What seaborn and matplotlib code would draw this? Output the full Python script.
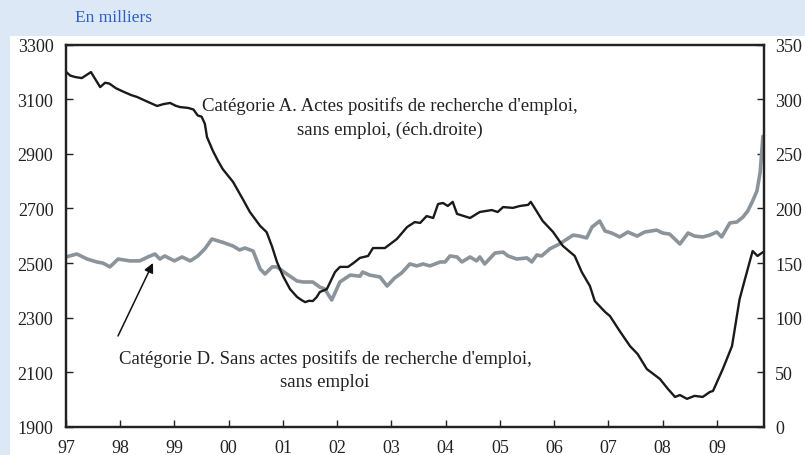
import numpy as np
import pandas as pd
import matplotlib.pyplot as plt
import seaborn as sns

# Catégorie A (left scale, thousands)
cat_a_t = [1997.00, 1997.08, 1997.17, 1997.29, 1997.46, 1997.63, 1997.72, 1997.80, 1997.92,
           1998.05, 1998.20, 1998.31, 1998.42, 1998.51, 1998.60, 1998.68, 1998.80, 1998.92,
           1999.02, 1999.10, 1999.25, 1999.35, 1999.43, 1999.50, 1999.56, 1999.60, 1999.71,
           1999.80, 1999.89, 2000.08, 2000.26, 2000.39, 2000.58, 2000.70, 2000.80, 2000.89,
           2001.00, 2001.13, 2001.26, 2001.34, 2001.41, 2001.48, 2001.55, 2001.62, 2001.68,
           2001.81, 2001.96, 2002.05, 2002.20, 2002.30, 2002.42, 2002.57, 2002.66, 2002.88,
           2003.10, 2003.29, 2003.43, 2003.53, 2003.65, 2003.77, 2003.86, 2003.95, 2004.04,
           2004.13, 2004.21, 2004.45, 2004.63, 2004.85, 2004.96, 2005.06, 2005.24, 2005.37,
           2005.52, 2005.57, 2005.79, 2005.98, 2006.16, 2006.38, 2006.51, 2006.66, 2006.75,
           2006.94, 2007.03, 2007.21, 2007.40, 2007.54, 2007.71, 2007.95, 2008.10, 2008.23,
           2008.32, 2008.45, 2008.59, 2008.74, 2008.87, 2008.93, 2009.11, 2009.28, 2009.42,
           2009.52, 2009.66, 2009.75, 2009.85]
cat_a = [3200, 3186, 3181, 3177, 3199, 3144, 3160, 3157, 3140,
         3128, 3115, 3108, 3098, 3090, 3082, 3075, 3082, 3086,
         3076, 3071, 3068, 3062, 3040, 3036, 3010, 2961, 2910,
         2875, 2844, 2797, 2734, 2687, 2636, 2613, 2560, 2504,
         2453, 2405, 2376, 2365, 2357, 2362, 2361, 2375, 2394,
         2405, 2467, 2486, 2486, 2500, 2519, 2526, 2555, 2555,
         2588, 2632, 2650, 2647, 2672, 2665, 2716, 2720, 2709,
         2724, 2680, 2665, 2687, 2694, 2687, 2705, 2702, 2709,
         2713, 2724, 2654, 2614, 2563, 2526, 2467, 2416, 2361,
         2321, 2306, 2251, 2196, 2167, 2112, 2076, 2039, 2010,
         2017, 2003, 2014, 2010, 2028, 2032, 2112, 2196, 2368,
         2442, 2544, 2526, 2540]

# Catégorie D (right scale, thousands)
cat_d_t = [1997.00, 1997.20, 1997.39, 1997.57, 1997.68, 1997.81, 1997.96, 1998.18, 1998.36,
           1998.51, 1998.64, 1998.73, 1998.82, 1999.00, 1999.14, 1999.29, 1999.43, 1999.56,
           1999.69, 1999.89, 2000.08, 2000.20, 2000.30, 2000.45, 2000.58, 2000.67, 2000.80,
           2000.89, 2001.07, 2001.26, 2001.37, 2001.55, 2001.68, 2001.77, 2001.90, 2002.05,
           2002.24, 2002.42, 2002.47, 2002.60, 2002.79, 2002.92, 2003.06, 2003.19, 2003.34,
           2003.47, 2003.58, 2003.71, 2003.90, 2003.99, 2004.08, 2004.21, 2004.30, 2004.45,
           2004.57, 2004.63, 2004.72, 2004.91, 2005.06, 2005.15, 2005.31, 2005.50, 2005.59,
           2005.68, 2005.77, 2005.92, 2006.10, 2006.24, 2006.35, 2006.47, 2006.60, 2006.70,
           2006.84, 2006.94, 2007.06, 2007.21, 2007.36, 2007.53, 2007.67, 2007.89, 2008.00,
           2008.13, 2008.32, 2008.47, 2008.59, 2008.74, 2008.87, 2009.00, 2009.09, 2009.24,
           2009.37, 2009.48, 2009.57, 2009.66, 2009.74, 2009.80, 2009.85]
cat_d = [155.6, 158.3, 153.7, 151.0, 150.0, 146.5, 153.7, 152.0, 152.0,
         155.6, 158.3, 153.7, 156.5, 152.0, 155.6, 152.0, 156.5, 163.0,
         172.0, 169.0, 165.6, 162.0, 163.8, 161.0, 144.6, 140.0, 146.5,
         146.5, 140.0, 133.6, 132.7, 132.7, 128.0, 126.3, 116.2, 132.7,
         139.0, 138.0, 141.8, 139.0, 137.3, 129.0, 136.4, 141.0, 149.2,
         147.4, 149.2, 147.4, 151.0, 151.0, 156.5, 155.6, 151.0, 155.6,
         152.0, 155.6, 149.2, 159.2, 160.0, 156.5, 153.7, 154.7, 151.0,
         157.4, 156.5, 163.0, 167.5, 172.0, 175.6, 174.7, 173.0, 183.0,
         188.5, 179.3, 177.5, 173.9, 178.4, 174.7, 178.4, 180.2, 177.5,
         176.5, 167.5, 177.5, 174.7, 173.9, 175.6, 178.4, 173.9, 186.7,
         187.6, 192.0, 197.6, 206.8, 216.0, 233.4, 266.0]

years = list(range(1997, 2010))
year_labels = ["97", "98", "99", "00", "01", "02", "03", "04", "05", "06", "07", "08", "09"]
left_ticks = [1900, 2100, 2300, 2500, 2700, 2900, 3100, 3300]
right_ticks = [0, 50, 100, 150, 200, 250, 300, 350]

sns.set_theme(style="ticks")
plt.rcParams['font.family'] = ['Liberation Serif', 'DejaVu Serif']

BG = "#dde8f6"
fig = plt.figure(figsize=(8.05, 4.56), dpi=100, facecolor=BG)
# white panel behind the chart
fig.patches.append(plt.Rectangle((10 / 805, 0), 1, 1 - 37 / 456, transform=fig.transFigure,
                                 facecolor="white", edgecolor="none", zorder=-5))
ax = fig.add_axes([66 / 805, 28 / 456, 698 / 805, 382.5 / 456])
ax2 = ax.twinx()

df_a = pd.DataFrame({"t": cat_a_t, "v": cat_a})
df_d = pd.DataFrame({"t": cat_d_t, "v": cat_d})

sns.lineplot(data=df_a, x="t", y="v", ax=ax, color="#1a1a1a", linewidth=1.7)
sns.lineplot(data=df_d, x="t", y="v", ax=ax2, color="#8b949b", linewidth=2.6)

# black series drawn above the grey one
ax.set_zorder(2)
ax2.set_zorder(1)
ax.patch.set_visible(False)
ax2.patch.set_visible(False)

ax.set_xlim(1997, 2009.87)
ax.set_ylim(1900, 3300)
ax2.set_ylim(0, 350)
ax.set_xticks(years)
ax.set_xticklabels(year_labels)
ax.set_yticks(left_ticks)
ax2.set_yticks(right_ticks)
ax.set_xlabel("")
ax.set_ylabel("")
ax2.set_ylabel("")

for a in (ax, ax2):
    for s in a.spines.values():
        s.set_visible(True)
        s.set_color("#222222")
        s.set_linewidth(1.6)
    a.tick_params(direction="in", length=5, width=1, colors="#222222",
                  labelsize=13, labelcolor="#222222")
ax.tick_params(axis="y", pad=9)
ax.tick_params(axis="x", pad=9)
ax2.tick_params(axis="y", pad=8)

ax.text(0.464, 0.81, "Catégorie A. Actes positifs de recherche d'emploi,\nsans emploi, (éch.droite)",
        transform=ax.transAxes, ha="center", va="center", fontsize=13.5,
        linespacing=1.5, color="#222222")
ax.text(0.371, 0.15, "Catégorie D. Sans actes positifs de recherche d'emploi,\nsans emploi",
        transform=ax.transAxes, ha="center", va="center", fontsize=13.5,
        linespacing=1.5, color="#222222")
ax.annotate("", xy=(0.1246, 0.4288), xycoords="axes fraction",
            xytext=(0.0745, 0.238), textcoords="axes fraction",
            arrowprops=dict(arrowstyle="-|>", color="#111111", lw=1.1,
                            mutation_scale=14, shrinkA=0, shrinkB=0))

fig.text(75 / 805, 1 - 18 / 456, "En milliers", color="#2b5fc4", fontsize=12.5,
         ha="left", va="center")

fig.savefig("out.png", dpi=100, facecolor=BG)
